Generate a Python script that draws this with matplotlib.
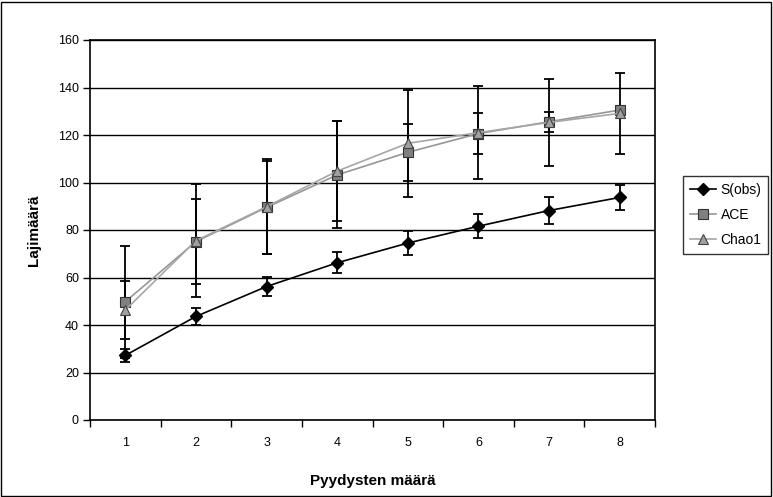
import numpy as np
import matplotlib
matplotlib.use("Agg")
from matplotlib import pyplot as plt
from matplotlib.patches import Rectangle

# data
traps = [1, 2, 3, 4, 5, 6, 7, 8]
s_obs = [27.2, 43.6, 56.2, 66.2, 74.5, 81.6, 88.2, 93.7]
s_obs_err = [2.8, 3.4, 4.0, 4.5, 5.0, 5.0, 5.6, 5.3]
ace = [49.8, 75.1, 89.5, 103.2, 112.7, 120.6, 125.6, 130.5]
ace_err = [23.6, 18.0, 19.5, 22.5, 12.0, 8.5, 4.2, 1.5]
chao1 = [46.3, 75.5, 89.8, 104.8, 116.5, 121.0, 125.3, 129.1]
chao1_err = [12.3, 23.7, 20.0, 21.0, 22.5, 19.5, 18.3, 17.0]

y_ticks = [0, 20, 40, 60, 80, 100, 120, 140, 160]

plt.rcParams["font.family"] = ["Liberation Sans", "DejaVu Sans"]

fig = plt.figure(figsize=(7.73, 4.97), dpi=100)
ax = fig.add_axes([90 / 773, 77 / 497, 565 / 773, 380 / 497])

x = np.array(traps)
err_kw = dict(fmt="none", ecolor="black", elinewidth=1.3, capsize=3.5, capthick=1.3, zorder=3)
ax.errorbar(x, s_obs, yerr=s_obs_err, **err_kw)
ax.errorbar(x, ace, yerr=ace_err, **err_kw)
ax.errorbar(x, chao1, yerr=chao1_err, **err_kw)

ax.plot(x, s_obs, color="black", lw=1.2, marker="D", ms=6, mfc="black", mec="black",
        label="S(obs)", zorder=4)
ax.plot(x, ace, color="#969696", lw=1.2, marker="s", ms=6.5, mfc="#808080", mec="#333333",
        mew=0.8, label="ACE", zorder=4)
ax.plot(x, chao1, color="#a6a6a6", lw=1.2, marker="^", ms=7.5, mfc="#a0a0a0", mec="#444444",
        mew=0.8, label="Chao1", zorder=5)

ax.set_xlim(0.5, 8.5)
ax.set_ylim(0, 160)
ax.set_yticks(y_ticks)
ax.set_xticks(traps)
ax.set_xticks(np.arange(0.5, 9, 1), minor=True)
ax.tick_params(axis="x", which="major", length=0, pad=12, labelsize=9)
ax.tick_params(axis="x", which="minor", length=5, width=1, direction="out")
ax.tick_params(axis="y", which="major", length=5, width=1, direction="out", labelsize=9, pad=3)

ax.grid(axis="y", color="black", lw=1)
ax.set_axisbelow(True)
for sp in ax.spines.values():
    sp.set_linewidth(1.2)
    sp.set_color("black")

ax.set_xlabel("Pyydysten määrä", fontsize=11, fontweight="bold", labelpad=18)
ax.set_ylabel("Lajimäärä", fontsize=11, fontweight="bold", labelpad=12)

leg = ax.legend(loc="center left", bbox_to_anchor=(683 / 773, (497 - 215) / 497),
                bbox_transform=fig.transFigure, frameon=True, fancybox=False,
                edgecolor="black", fontsize=10, handlelength=1.9, borderpad=0.5,
                labelspacing=0.8, handletextpad=0.3, borderaxespad=0)
leg.get_frame().set_linewidth(1)

fig.patches.append(Rectangle((1 / 773, 1 / 497), 770 / 773, 494 / 497, transform=fig.transFigure,
                             fill=False, edgecolor="black", lw=1))

fig.savefig("out.png", dpi=100)
